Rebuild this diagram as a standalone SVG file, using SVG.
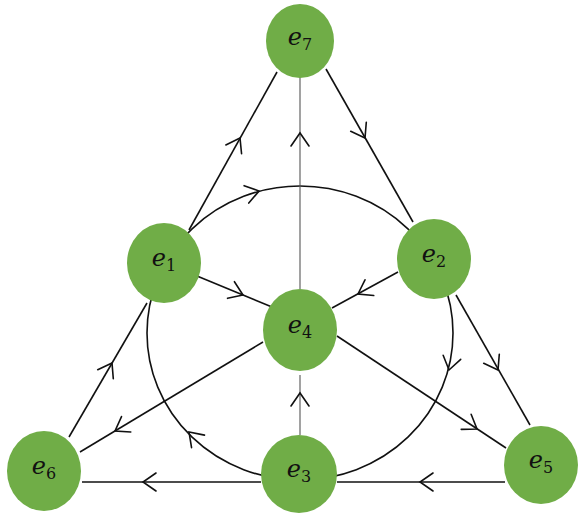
<svg xmlns="http://www.w3.org/2000/svg" xmlns:xlink="http://www.w3.org/1999/xlink" width="588" height="520" viewBox="0 0 588 520">
<style>
.ln{stroke:#111;stroke-width:1.6;fill:none}
.vl{stroke:#555;stroke-width:1.1;fill:none}
.ah{stroke:#111;stroke-width:1.6;fill:none;stroke-linecap:round;stroke-linejoin:miter}
.nd{fill:#70AD47}
.lb{font-family:"DejaVu Serif","Liberation Serif",serif;font-size:24px;fill:#111}
.e{font-style:italic}
.s{font-size:16px}
</style>
<defs>
<path id="ah" class="ah" d="M-13,-9 L0,0 L-13,9"/>
</defs>
<rect width="588" height="520" fill="#fff"/>
<g id="connectors">
<ellipse class="ln" cx="300" cy="333" rx="153" ry="147"/>
<line class="ln" x1="189" y1="230" x2="277" y2="72"/>
<line class="ln" x1="326" y1="69" x2="413" y2="222"/>
<line class="vl" x1="300" y1="77" x2="300" y2="289"/>
<line class="ln" x1="197" y1="276" x2="272" y2="307"/>
<line class="ln" x1="398" y1="272" x2="332" y2="308"/>
<line class="ln" x1="456" y1="295" x2="530" y2="425"/>
<line class="ln" x1="337" y1="336" x2="506" y2="448"/>
<line class="ln" x1="263" y1="342" x2="80" y2="452"/>
<line class="ln" x1="69" y1="437" x2="147" y2="303"/>
<line class="vl" x1="300" y1="435" x2="300" y2="375"/>
<line class="ln" x1="505" y1="482" x2="337" y2="482"/>
<line class="ln" x1="261" y1="482" x2="82" y2="482"/>
<use xlink:href="#ah" transform="translate(240,138) rotate(-61)"/>
<use xlink:href="#ah" transform="translate(365,138) rotate(60)"/>
<use xlink:href="#ah" transform="translate(300,133) rotate(-90)"/>
<use xlink:href="#ah" transform="translate(259,191) rotate(-15)"/>
<use xlink:href="#ah" transform="translate(243,295) rotate(22.5)"/>
<use xlink:href="#ah" transform="translate(358,294) rotate(151)"/>
<use xlink:href="#ah" transform="translate(449,370) rotate(103)"/>
<use xlink:href="#ah" transform="translate(498,370) rotate(60)"/>
<use xlink:href="#ah" transform="translate(477,429) rotate(33.5)"/>
<use xlink:href="#ah" transform="translate(420,482) rotate(180)"/>
<use xlink:href="#ah" transform="translate(143,482) rotate(180)"/>
<use xlink:href="#ah" transform="translate(300,393) rotate(-90)"/>
<use xlink:href="#ah" transform="translate(189,432) rotate(-134)"/>
<use xlink:href="#ah" transform="translate(112,363) rotate(-60)"/>
<use xlink:href="#ah" transform="translate(115,431) rotate(149)"/>
</g>
<g id="e7"><ellipse class="nd" cx="300" cy="41" rx="34" ry="37"/><text class="lb" x="300" y="45" text-anchor="middle"><tspan class="e">e</tspan><tspan class="s" dy="5">7</tspan></text></g>
<g id="e1"><ellipse class="nd" cx="164" cy="263" rx="37" ry="40"/><text class="lb" x="164" y="266" text-anchor="middle"><tspan class="e">e</tspan><tspan class="s" dy="5">1</tspan></text></g>
<g id="e2"><ellipse class="nd" cx="434" cy="259" rx="37" ry="40"/><text class="lb" x="434" y="262" text-anchor="middle"><tspan class="e">e</tspan><tspan class="s" dy="5">2</tspan></text></g>
<g id="e4"><ellipse class="nd" cx="300" cy="330" rx="37" ry="41"/><text class="lb" x="300" y="333" text-anchor="middle"><tspan class="e">e</tspan><tspan class="s" dy="5">4</tspan></text></g>
<g id="e6"><ellipse class="nd" cx="44" cy="471" rx="37" ry="40"/><text class="lb" x="44" y="474" text-anchor="middle"><tspan class="e">e</tspan><tspan class="s" dy="5">6</tspan></text></g>
<g id="e3"><ellipse class="nd" cx="299" cy="474" rx="38" ry="39"/><text class="lb" x="299" y="477" text-anchor="middle"><tspan class="e">e</tspan><tspan class="s" dy="5">3</tspan></text></g>
<g id="e5"><ellipse class="nd" cx="541" cy="465" rx="37" ry="39"/><text class="lb" x="541" y="468" text-anchor="middle"><tspan class="e">e</tspan><tspan class="s" dy="5">5</tspan></text></g>
</svg>
